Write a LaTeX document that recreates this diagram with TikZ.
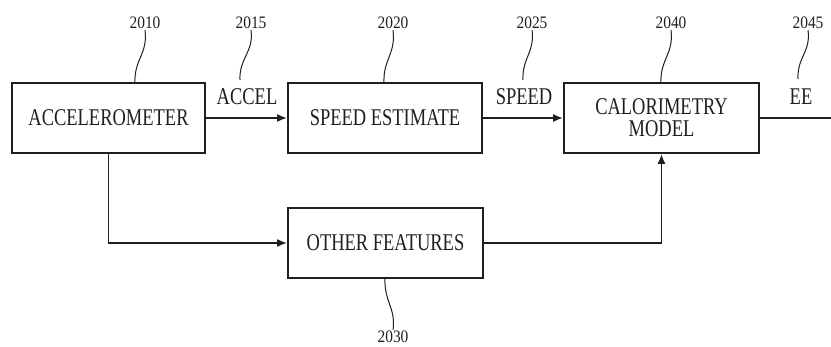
\documentclass[tikz,border=0pt]{standalone}
\usepackage{fontspec}
\setmainfont{Liberation Serif}
\newfontfamily\boxfont[FakeStretch=0.77]{Liberation Serif}
\newfontfamily\numfont[FakeStretch=0.88]{Liberation Serif}
\usetikzlibrary{arrows.meta}
\definecolor{ink}{gray}{0.12}
\begin{document}
\begin{tikzpicture}[x=1pt,y=-1pt,
  blk/.style={draw=ink, line width=1.8pt, minimum width=194pt, minimum height=70pt,
    font=\boxfont\fontsize{24}{22}\selectfont, text=ink, align=center, inner sep=0pt},
  lbl/.style={font=\boxfont\fontsize{24}{22}\selectfont, text=ink, inner sep=0pt},
  num/.style={font=\numfont\fontsize{17.5}{18}\selectfont, text=ink, inner sep=1pt},
  flow/.style={draw=ink, line width=1.8pt, -{Latex[length=10pt,width=8pt]}},
  plain/.style={draw=ink, line width=1.8pt},
  lead/.style={draw=ink, line width=1pt}]
\useasboundingbox (0,0) rectangle (831,347);

% blocks
\node[blk, minimum width=193pt] (acc) at (108.5,118) {ACCELEROMETER};
\node[blk] (spd) at (385,118) {SPEED ESTIMATE};
\node[blk, minimum width=195pt] (cal) at (661.5,118) {CALORIMETRY\\MODEL};
\node[blk, minimum width=195pt] (oth) at (385.5,243) {OTHER FEATURES};

% signal labels
\node[lbl] (accel) at (247,97) {ACCEL};
\node[lbl] (speed) at (524,97) {SPEED};
\node[lbl] (ee) at (801,97) {EE};

% connectors
\draw[flow] (acc) -- (spd);
\draw[flow] (spd) -- (cal);
\draw[flow] (acc.south) |- (oth.west);
\draw[flow] (oth.east) -| (cal.south);
\coordinate (out) at (831,118);
\draw[plain] (cal.east) -- (out);

% reference numerals
\node[num] (n2010) at (145,23) {2010};
\node[num] (n2015) at (251,23) {2015};
\node[num] (n2020) at (393,23) {2020};
\node[num] (n2025) at (532,23) {2025};
\node[num] (n2040) at (671,23) {2040};
\node[num] (n2045) at (808,23) {2045};
\node[num] (n2030) at (393,337) {2030};

\coordinate (e2010) at (135,83);
\coordinate (e2015) at (240,80);
\coordinate (e2020) at (384,83);
\coordinate (e2025) at (523,80);
\coordinate (e2040) at (661,83);
\coordinate (e2045) at (798,79);
\coordinate (e2030) at (385,278);

\draw[lead] (n2010.south) .. controls +(3,24) and +(-1,-24) .. (e2010);
\draw[lead] (n2015.south) .. controls +(3,22) and +(-1,-22) .. (e2015);
\draw[lead] (n2020.south) .. controls +(3,24) and +(-1,-24) .. (e2020);
\draw[lead] (n2025.south) .. controls +(3,22) and +(-1,-22) .. (e2025);
\draw[lead] (n2040.south) .. controls +(3,24) and +(-1,-24) .. (e2040);
\draw[lead] (n2045.south) .. controls +(3,22) and +(-1,-22) .. (e2045);
\draw[lead] (e2030) .. controls +(-1,24) and +(3,-22) .. (n2030.north);
\end{tikzpicture}
\end{document}
